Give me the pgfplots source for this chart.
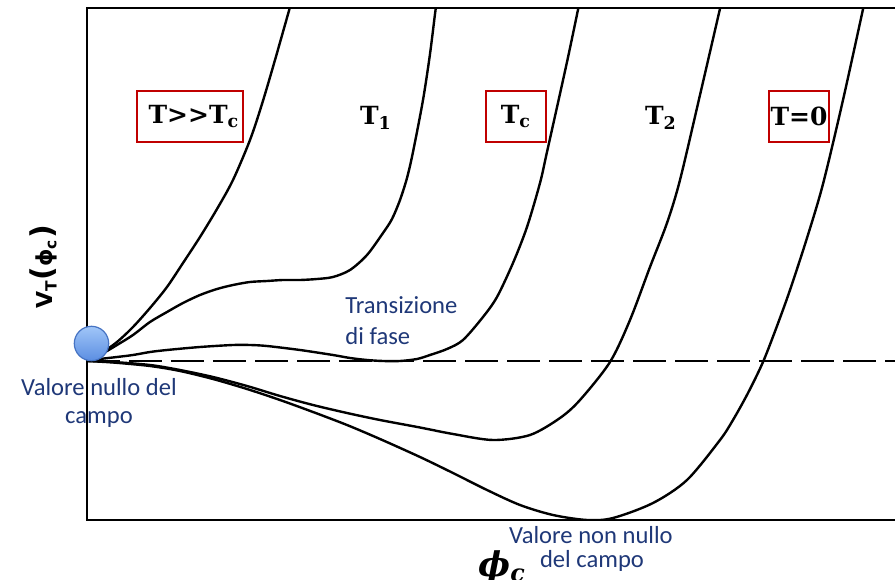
\documentclass[border=0pt]{standalone}
\usepackage{fontspec}
\setmainfont{Carlito}
\newfontfamily\slab{DejaVu Serif}
\newfontfamily\dvsans{DejaVu Sans}
\usepackage{pgfplots}
\pgfplotsset{compat=1.18}

\definecolor{navy}{RGB}{31,56,120}
\definecolor{boxred}{RGB}{192,0,0}
\definecolor{ballline}{RGB}{70,115,195}
\definecolor{balltop}{RGB}{160,198,248}
\definecolor{ballbot}{RGB}{92,142,226}

% 1 px of the reference = 0.5pt; data are in pixel units (y downward -> negative)
\begin{document}
\begin{tikzpicture}[
    tbox/.style={draw=boxred, line width=0.8pt, fill=white,
        minimum height=25.5pt, inner sep=0pt,
        font=\slab\bfseries\fontsize{12.5}{14}\selectfont},
    tlab/.style={font=\slab\bfseries\fontsize{12.5}{14}\selectfont},
    ann/.style={text=navy, inner sep=0pt, font=\fontsize{12.3}{15}\selectfont},
]
\begin{axis}[
    width=404pt, height=256pt, scale only axis,
    xmin=87, xmax=895, ymin=-520, ymax=-8,
    axis line style={draw=none}, ticks=none,
    clip mode=individual,
    curve/.style={black, line width=1.2pt, smooth, mark=none},
]
% T >> Tc
\addplot[curve] coordinates {
    (87,-361) (100,-354) (117,-342) (133,-327) (150,-308) (167,-287)
    (183,-263) (200,-237) (217,-209) (233,-180) (250,-140) (262,-104)
    (275,-60) (292,0)
};
% T1
\addplot[curve] coordinates {
    (87,-361) (100,-355) (117,-345) (133,-335) (150,-322) (167,-312)
    (183,-303) (200,-295) (217,-289) (233,-285) (250,-282) (267,-281)
    (283,-280) (300,-280) (317,-279) (333,-277) (350,-270) (367,-255)
    (383,-233) (392,-219) (400,-200) (407,-178) (413,-152) (423,-100)
    (430,-54) (435,-14) (437,0)
};
% Tc
\addplot[curve] coordinates {
    (87,-361) (100,-359) (117,-357) (133,-355) (150,-352) (167,-350)
    (200,-347) (233,-345) (250,-345) (267,-346) (300,-350) (333,-355)
    (350,-358) (367,-360) (383,-361) (400,-361) (417,-359) (430,-355)
    (447,-349) (463,-340) (483,-317) (497,-297) (513,-263) (527,-227)
    (540,-183) (547,-152) (567,-62) (580,0)
};
% T2
\addplot[curve] coordinates {
    (87,-361) (113,-362) (150,-365) (180,-370) (213,-377) (247,-386)
    (280,-396) (313,-405) (347,-413) (380,-420) (420,-427.5) (453,-434)
    (493,-440) (530,-435) (560,-418) (580,-400) (610,-362) (630,-320)
    (650,-267) (667,-223) (680,-180) (700,-95) (722,0)
};
% T = 0
\addplot[curve] coordinates {
    (87,-361) (113,-362.5) (150,-366) (180,-371) (213,-379) (247,-389)
    (280,-400) (313,-412) (347,-425) (380,-439) (420,-457) (453,-473)
    (487,-490) (520,-505) (553,-515) (587,-520) (613,-518) (653,-503)
    (687,-480) (720,-440) (733,-420) (748,-393) (763,-362) (777,-326)
    (790,-290) (807,-238) (823,-184) (843,-100) (865,0)
};
% zero level
\addplot[black, line width=1.2pt, dash pattern=on 16.5pt off 4.5pt, mark=none]
    coordinates {(87,-361) (895,-361)};
\end{axis}

% overlay in reference pixel units: (px,py) -> axis box corner (87,520) at origin
\begin{scope}[x=0.5pt, y=-0.5pt, shift={(-43.5pt,260pt)}]
\draw[line width=1.1pt] (895,8) -- (87,8) -- (87,520) -- (895,520);

\shade[top color=balltop, bottom color=ballbot, draw=ballline, line width=0.6pt]
    (91.5,343.5) circle[radius=8.6pt];

\node[tbox, minimum width=53pt] at (190,116.5) {\hspace{4pt}T>{}>T\textsubscript{c}};
\node[tbox, minimum width=30pt] at (516,116.5) {T\textsubscript{c}};
\node[tbox, minimum width=30pt] at (799,116.5) {T=0};
\node[tlab] at (376,118) {T\textsubscript{1}};
\node[tlab] at (661,118) {T\textsubscript{2}};

\node[rotate=90, anchor=base, inner sep=0pt, font=\dvsans\bfseries\fontsize{11}{13}\selectfont] at (53,267) {V\textsubscript{T}{\fontsize{15}{15}\selectfont(}ϕ\textsubscript{c}{\fontsize{15}{15}\selectfont)}};
\node[anchor=base west, inner sep=0pt, font=\slab\bfseries\itshape\fontsize{17}{20}\selectfont] at (478,576) {ϕ\textsubscript{c}};

\node[ann, anchor=base] at (99,395) {Valore nullo del};
\node[ann, anchor=base] at (99,423) {campo};
\node[ann, anchor=base west] at (345,313) {Transizione};
\node[ann, anchor=base west] at (345,344) {di fase};
\node[ann, anchor=base] at (591,543) {Valore non nullo};
\node[ann, anchor=base] at (592,567) {del campo};

\pgfresetboundingbox
\path (0,579) rectangle (895,0);
\end{scope}
\end{tikzpicture}
\end{document}
